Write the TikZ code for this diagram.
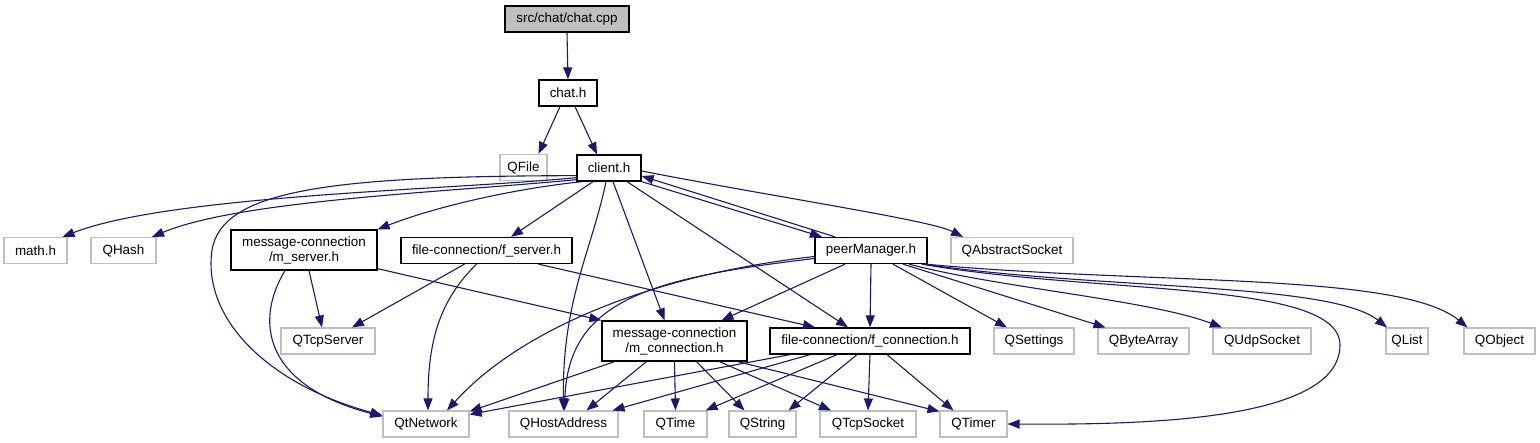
\documentclass[tikz,border=0pt]{standalone}
\usepackage{fontspec}
\setmainfont{Liberation Sans}
\usetikzlibrary{arrows.meta}
\definecolor{edgeblue}{HTML}{191970}
\definecolor{extgray}{HTML}{BFBFBF}
\tikzset{
    filebox/.style={draw=black,line width=1.3pt,fill=white,inner sep=0pt,minimum height=26pt,
        align=center,font=\fontsize{13.4}{15}\selectfont},
    extbox/.style={filebox,draw=extgray,line width=1.1pt},
    mainbox/.style={filebox,fill=extgray},
    dep/.style={draw=edgeblue,line width=1.1pt,-{Triangle[length=12pt,width=9pt]}}
}
\begin{document}
\begin{tikzpicture}[x=1pt,y=-1pt]
    \useasboundingbox (0,0) rectangle (1540,443);
    % top of the graph
    \node[mainbox,minimum width=124pt] (cpp) at (567,19) {src/chat/chat.cpp};
    \node[filebox,minimum width=58pt] (chath) at (568,93) {chat.h};
    \node[extbox,minimum width=47pt] (qfile) at (523.5,167.5) {QFile};
    \node[filebox,minimum width=64pt] (client) at (609,168) {client.h};
    % second row
    \node[extbox,minimum width=63pt] (mathh) at (35.5,250.5) {math.h};
    \node[extbox,minimum width=65pt] (qhash) at (123.5,250.5) {QHash};
    \node[filebox,minimum width=146pt,minimum height=40pt] (mserver) at (304,250) {message-connection\\/m\_server.h};
    \node[filebox,minimum width=171pt] (fserver) at (486.5,250.5) {file-connection/f\_server.h};
    \node[filebox,minimum width=112pt] (peer) at (871,250.5) {peerManager.h};
    \node[extbox,minimum width=122pt] (qabssock) at (1012,250.5) {QAbstractSocket};
    % third row
    \node[extbox,minimum width=94pt] (qtcpserver) at (328,341) {QTcpServer};
    \node[filebox,minimum width=145pt,minimum height=40pt] (mconn) at (674.5,341) {message-connection\\/m\_connection.h};
    \node[filebox,minimum width=200pt] (fconn) at (870,341) {file-connection/f\_connection.h};
    \node[extbox,minimum width=80pt] (qsettings) at (1034,341) {QSettings};
    \node[extbox,minimum width=91pt] (qbytearray) at (1143.5,341) {QByteArray};
    \node[extbox,minimum width=98pt] (qudpsock) at (1262,341) {QUdpSocket};
    \node[extbox,minimum width=42pt] (qlist) at (1407,341) {QList};
    \node[extbox,minimum width=71pt] (qobject) at (1499.5,341) {QObject};
    % bottom row
    \node[extbox,minimum width=86pt] (qtnet) at (426,424) {QtNetwork};
    \node[extbox,minimum width=109pt] (qhostaddr) at (563.5,424) {QHostAddress};
    \node[extbox,minimum width=63pt] (qtime) at (675.5,424) {QTime};
    \node[extbox,minimum width=67pt] (qstring) at (762.5,424) {QString};
    \node[extbox,minimum width=96pt] (qtcpsock) at (868,424) {QTcpSocket};
    \node[extbox,minimum width=67pt] (qtimer) at (973.5,424) {QTimer};

    % chat.cpp and chat.h
    \draw[dep] (cpp.south) -- (chath.north);
    \draw[dep] ([xshift=-8pt]chath.south) -- ([xshift=15pt]qfile.north);
    \draw[dep] ([xshift=7pt]chath.south) -- ([xshift=-12pt]client.north);
    % client.h
    \draw[dep] ([yshift=4pt]client.south west) .. controls (450,190) and (170,195) .. ([xshift=27pt]mathh.north);
    \draw[dep] ([yshift=2pt]client.south west) .. controls (450,192) and (240,200) .. ([xshift=28.5pt]qhash.north);
    \draw[dep] ([yshift=6pt]client.south west) .. controls (330,176) and (222,190) .. (212,250)
        .. controls (202,320) and (270,385) .. ([yshift=-5pt]qtnet.north west);
    \draw[dep] ([xshift=6pt]client.south west) .. controls (520,188) and (440,205) .. (mserver.north east);
    \draw[dep] ([xshift=-16pt]client.south) -- ([xshift=24.5pt]fserver.north);
    \draw[dep] ([xshift=-3pt]client.south) .. controls (592,250) and (562,300) .. (qhostaddr.north);
    \draw[dep] ([xshift=4pt]client.south) -- ([xshift=-10pt]mconn.north);
    \draw[dep] ([xshift=18pt]client.south) -- ([xshift=-22pt]fconn.north);
    \draw[dep] (client.south east) -- ([xshift=-49pt]peer.north);
    \draw[dep] ([yshift=-3pt]client.east) .. controls (780,198) and (930,220) .. ([xshift=-49pt]qabssock.north);
    % m_server.h and f_server.h
    \draw[dep] ([xshift=-19pt]mserver.south) .. controls (255,320) and (262,385) .. ([yshift=-6pt]qtnet.north west);
    \draw[dep] ([xshift=5pt]mserver.south) -- ([xshift=-6pt]qtcpserver.north);
    \draw[dep] ([yshift=2pt]mserver.south east) -- (mconn.north west);
    \draw[dep] ([xshift=-22pt]fserver.south) -- ([xshift=24pt]qtcpserver.north);
    \draw[dep] ([xshift=-10pt]fserver.south) .. controls (440,300) and (428,340) .. ([xshift=2pt]qtnet.north);
    \draw[dep] ([xshift=52pt]fserver.south) -- ([xshift=-55pt]fconn.north);
    % peerManager.h
    \draw[dep] ([xshift=-36pt]peer.north) -- ([yshift=-8pt]client.east);
    \draw[dep] ([yshift=-6pt]peer.west) .. controls (650,275) and (520,330) .. ([xshift=21pt]qtnet.north);
    \draw[dep] ([yshift=-8pt]peer.west) .. controls (650,278) and (568,300) .. ([xshift=1pt]qhostaddr.north);
    \draw[dep] ([xshift=-26pt]peer.south) -- ([xshift=47pt]mconn.north);
    \draw[dep] (peer.south) -- (fconn.north);
    \draw[dep] ([xshift=22pt]peer.south) -- ([xshift=-27pt]qsettings.north);
    \draw[dep] ([xshift=32pt]peer.south) -- ([xshift=-38pt]qbytearray.north);
    \draw[dep] ([xshift=38pt]peer.south) .. controls (1000,288) and (1150,300) .. ([xshift=-40pt]qudpsock.north);
    \draw[dep] ([xshift=-4pt]peer.south east) .. controls (1100,290) and (1330,282) .. ([xshift=-20pt]qlist.north);
    \draw[dep] ([xshift=-2pt]peer.south east) .. controls (1150,285) and (1400,272) .. ([xshift=-32pt]qobject.north);
    \draw[dep] ([xshift=-6pt]peer.south east) .. controls (1100,295) and (1340,280) .. (1340,345)
        .. controls (1340,420) and (1150,425) .. (qtimer.east);
    % m_connection.h
    \draw[dep] ([xshift=-60pt]mconn.south) -- ([yshift=-1pt]qtnet.north east);
    \draw[dep] ([xshift=-28pt]mconn.south) -- ([xshift=23pt]qhostaddr.north);
    \draw[dep] (mconn.south) -- (qtime.north);
    \draw[dep] ([xshift=22pt]mconn.south) -- ([xshift=-18pt]qstring.north);
    \draw[dep] ([xshift=45pt]mconn.south) -- ([xshift=-37pt]qtcpsock.north);
    \draw[dep] ([xshift=-10pt]mconn.south east) -- ([yshift=-1pt]qtimer.north west);
    % f_connection.h
    \draw[dep] ([xshift=-80pt]fconn.south) -- ([yshift=-4pt]qtnet.north east);
    \draw[dep] ([xshift=-60pt]fconn.south) -- ([xshift=-6pt]qhostaddr.north east);
    \draw[dep] ([xshift=-33pt]fconn.south) -- ([xshift=-2pt]qtime.north east);
    \draw[dep] ([xshift=-13pt]fconn.south) -- ([xshift=-8pt]qstring.north east);
    \draw[dep] (fconn.south) -- (qtcpsock.north);
    \draw[dep] ([xshift=17pt]fconn.south) -- ([xshift=-20pt]qtimer.north);
\end{tikzpicture}
\end{document}
